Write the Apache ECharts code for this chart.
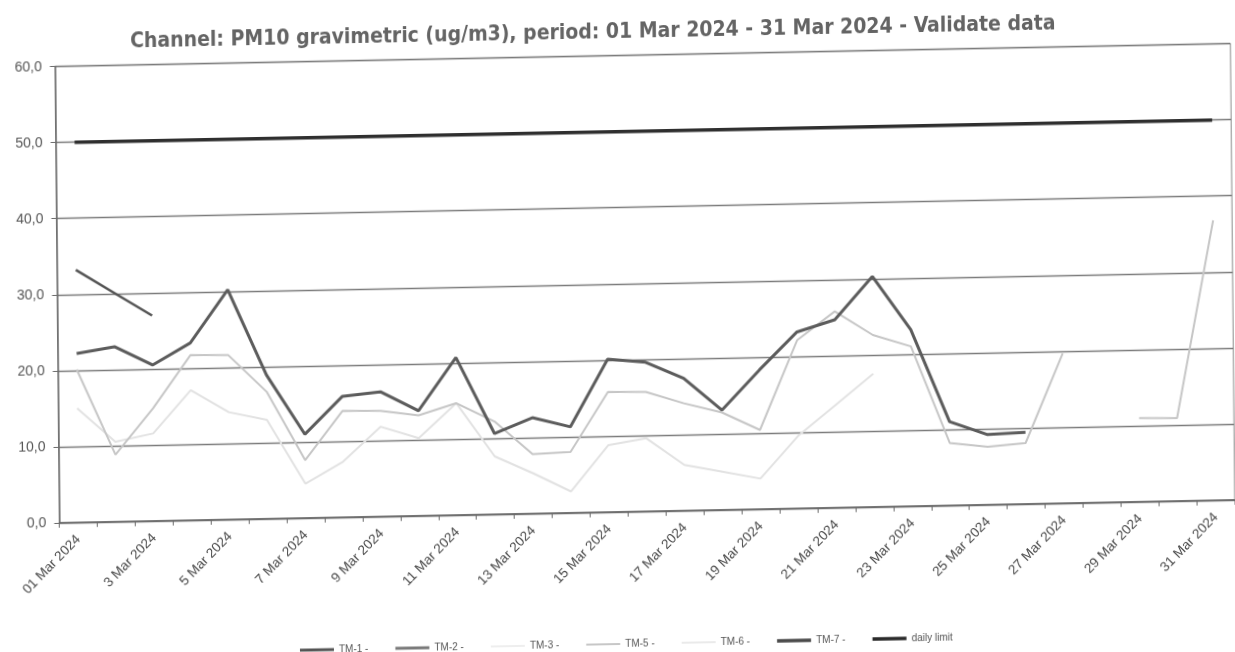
<!DOCTYPE html>
<html>
<head>
<meta charset="utf-8">
<script src="https://cdn.jsdelivr.net/npm/echarts@6/dist/echarts.min.js"></script>
<style>
  html, body { margin: 0; padding: 0; background: #ffffff; overflow: hidden; }
  #chart { width: 1235px; height: 652px; transform-origin: 617.5px 326px; transform: matrix(1, -0.0195, 0.0095, 1, 0, 0); }
</style>
</head>
<body>
<div id="chart"></div>
<script>
const days = ['01 Mar 2024','2 Mar 2024','3 Mar 2024','4 Mar 2024','5 Mar 2024','6 Mar 2024','7 Mar 2024','8 Mar 2024','9 Mar 2024','10 Mar 2024','11 Mar 2024','12 Mar 2024','13 Mar 2024','14 Mar 2024','15 Mar 2024','16 Mar 2024','17 Mar 2024','18 Mar 2024','19 Mar 2024','20 Mar 2024','21 Mar 2024','22 Mar 2024','23 Mar 2024','24 Mar 2024','25 Mar 2024','26 Mar 2024','27 Mar 2024','28 Mar 2024','29 Mar 2024','30 Mar 2024','31 Mar 2024'];

const tm1 = [33.2, 30.1, 27.0, null, null, null, null, null, null, null, null, null, null, null, null, null, null, null, null, null, null, null, null, null, null, null, null, null, null, null, null];
const tm2 = [null, null, null, null, null, null, null, null, null, null, null, null, null, null, null, null, null, null, null, null, null, null, null, null, null, null, null, null, null, null, null];
const tm3 = [15.0, 10.5, 11.5, 17.1, 14.1, 13.0, 4.5, 7.3, 11.8, 10.2, 14.7, 7.6, 5.3, 2.8, 8.8, 9.6, 6.0, 5.0, 4.0, 9.5, 13.5, 17.5, null, null, null, null, null, null, null, null, null];
const tm5 = [20.1, 8.8, 14.8, 21.7, 21.6, 16.7, 7.6, 14.0, 13.9, 13.2, 14.7, 12.2, 7.8, 8.0, 15.8, 15.7, 14.1, 12.8, 10.4, 22.1, 25.8, 22.6, 21.0, 8.2, 7.6, 8.0, 19.7, null, 11.0, 10.9, 36.8];
const tm6 = [null, null, null, null, null, null, null, null, null, null, null, null, null, null, null, null, null, null, null, null, null, null, null, null, null, null, null, null, null, null, null];
const tm7 = [22.2, 23.0, 20.5, 23.3, 30.2, 18.9, 11.0, 15.9, 16.4, 13.8, 20.7, 10.6, 12.6, 11.3, 20.1, 19.6, 17.4, 13.1, 18.3, 23.2, 24.7, 30.3, 23.2, 11.0, 9.2, 9.4, null, null, null, null, null];
const dailyLimit = [50, 50, 50, 50, 50, 50, 50, 50, 50, 50, 50, 50, 50, 50, 50, 50, 50, 50, 50, 50, 50, 50, 50, 50, 50, 50, 50, 50, 50, 50, 50];

const yTicks = { min: 0, max: 60, interval: 10 };
const titleText = 'Channel: PM10 gravimetric (ug/m3), period: 01 Mar 2024 - 31 Mar 2024 - Validate data';

function line(name, data, color, width, z) {
  return {
    name: name, type: 'line', data: data, showSymbol: false, symbol: 'none',
    connectNulls: false, z: z,
    lineStyle: { color: color, width: width },
    itemStyle: { color: color },
    emphasis: { disabled: true }
  };
}

const chart = echarts.init(document.getElementById('chart'));
chart.setOption({
  animation: false,
  backgroundColor: '#ffffff',
  title: {
    text: titleText,
    left: 128, top: 17,
    textStyle: { fontFamily: 'DejaVu Sans Condensed, DejaVu Sans', fontSize: 21, fontWeight: 'bold', color: '#646464' }
  },
  legend: {
    left: 292, top: 634,
    itemWidth: 34, itemHeight: 10, itemGap: 27,
    icon: 'rect',
    textStyle: { fontFamily: 'Liberation Sans, Arial', fontSize: 10, color: '#555' },
    data: [
      { name: 'TM-1 -', icon: 'path://M0,4 L34,4 L34,7 L0,7 Z', itemStyle: { color: '#555' } },
      { name: 'TM-2 -', icon: 'path://M0,4 L34,4 L34,7 L0,7 Z', itemStyle: { color: '#7a7a7a' } },
      { name: 'TM-3 -', icon: 'path://M0,5 L34,5 L34,6 L0,6 Z', itemStyle: { color: '#dddddd' } },
      { name: 'TM-5 -', icon: 'path://M0,5 L34,5 L34,6.5 L0,6.5 Z', itemStyle: { color: '#b5b5b5' } },
      { name: 'TM-6 -', icon: 'path://M0,5 L34,5 L34,6 L0,6 Z', itemStyle: { color: '#d5d5d5' } },
      { name: 'TM-7 -', icon: 'path://M0,4 L34,4 L34,7.5 L0,7.5 Z', itemStyle: { color: '#4a4a4a' } },
      { name: 'daily limit', icon: 'path://M0,4 L34,4 L34,7.5 L0,7.5 Z', itemStyle: { color: '#2a2a2a' } }
    ]
  },
  grid: { left: 57.5, right: 1.8, top: 55.7, bottom: 140.2, containLabel: false,
          show: true, borderColor: '#8a8a8a', borderWidth: 1 },
  xAxis: {
    type: 'category', data: days, boundaryGap: true,
    axisLine: { show: true, lineStyle: { color: '#6a6a6a', width: 1.5 } },
    axisTick: { show: true, alignWithLabel: false, interval: 0, length: 5, lineStyle: { color: '#6a6a6a' } },
    axisLabel: { interval: 1, rotate: 45, margin: 15, fontFamily: 'Liberation Sans, Arial', fontSize: 13.5, color: '#484848' },
    splitLine: { show: false }
  },
  yAxis: {
    type: 'value', min: yTicks.min, max: yTicks.max, interval: yTicks.interval,
    axisLine: { show: true, lineStyle: { color: '#6a6a6a', width: 1.5 } },
    axisTick: { show: true, length: 5, lineStyle: { color: '#6a6a6a' } },
    axisLabel: { margin: 13, fontFamily: 'Liberation Sans, Arial', fontSize: 14, color: '#555',
                 formatter: v => v.toFixed(1).replace('.', ',') },
    splitLine: { show: true, lineStyle: { color: '#7c7c7c', width: 1.3 } }
  },
  series: [
    line('TM-3 -', tm3, '#e2e2e2', 2, 2),
    line('TM-6 -', tm6, '#d5d5d5', 2, 2),
    line('TM-5 -', tm5, '#c6c6c6', 2, 3),
    line('TM-2 -', tm2, '#7a7a7a', 3, 4),
    line('TM-1 -', tm1, '#555555', 2.5, 5),
    line('TM-7 -', tm7, '#5c5c5c', 3, 6),
    line('daily limit', dailyLimit, '#2f2f2f', 3.5, 7)
  ]
});
</script>
</body>
</html>
